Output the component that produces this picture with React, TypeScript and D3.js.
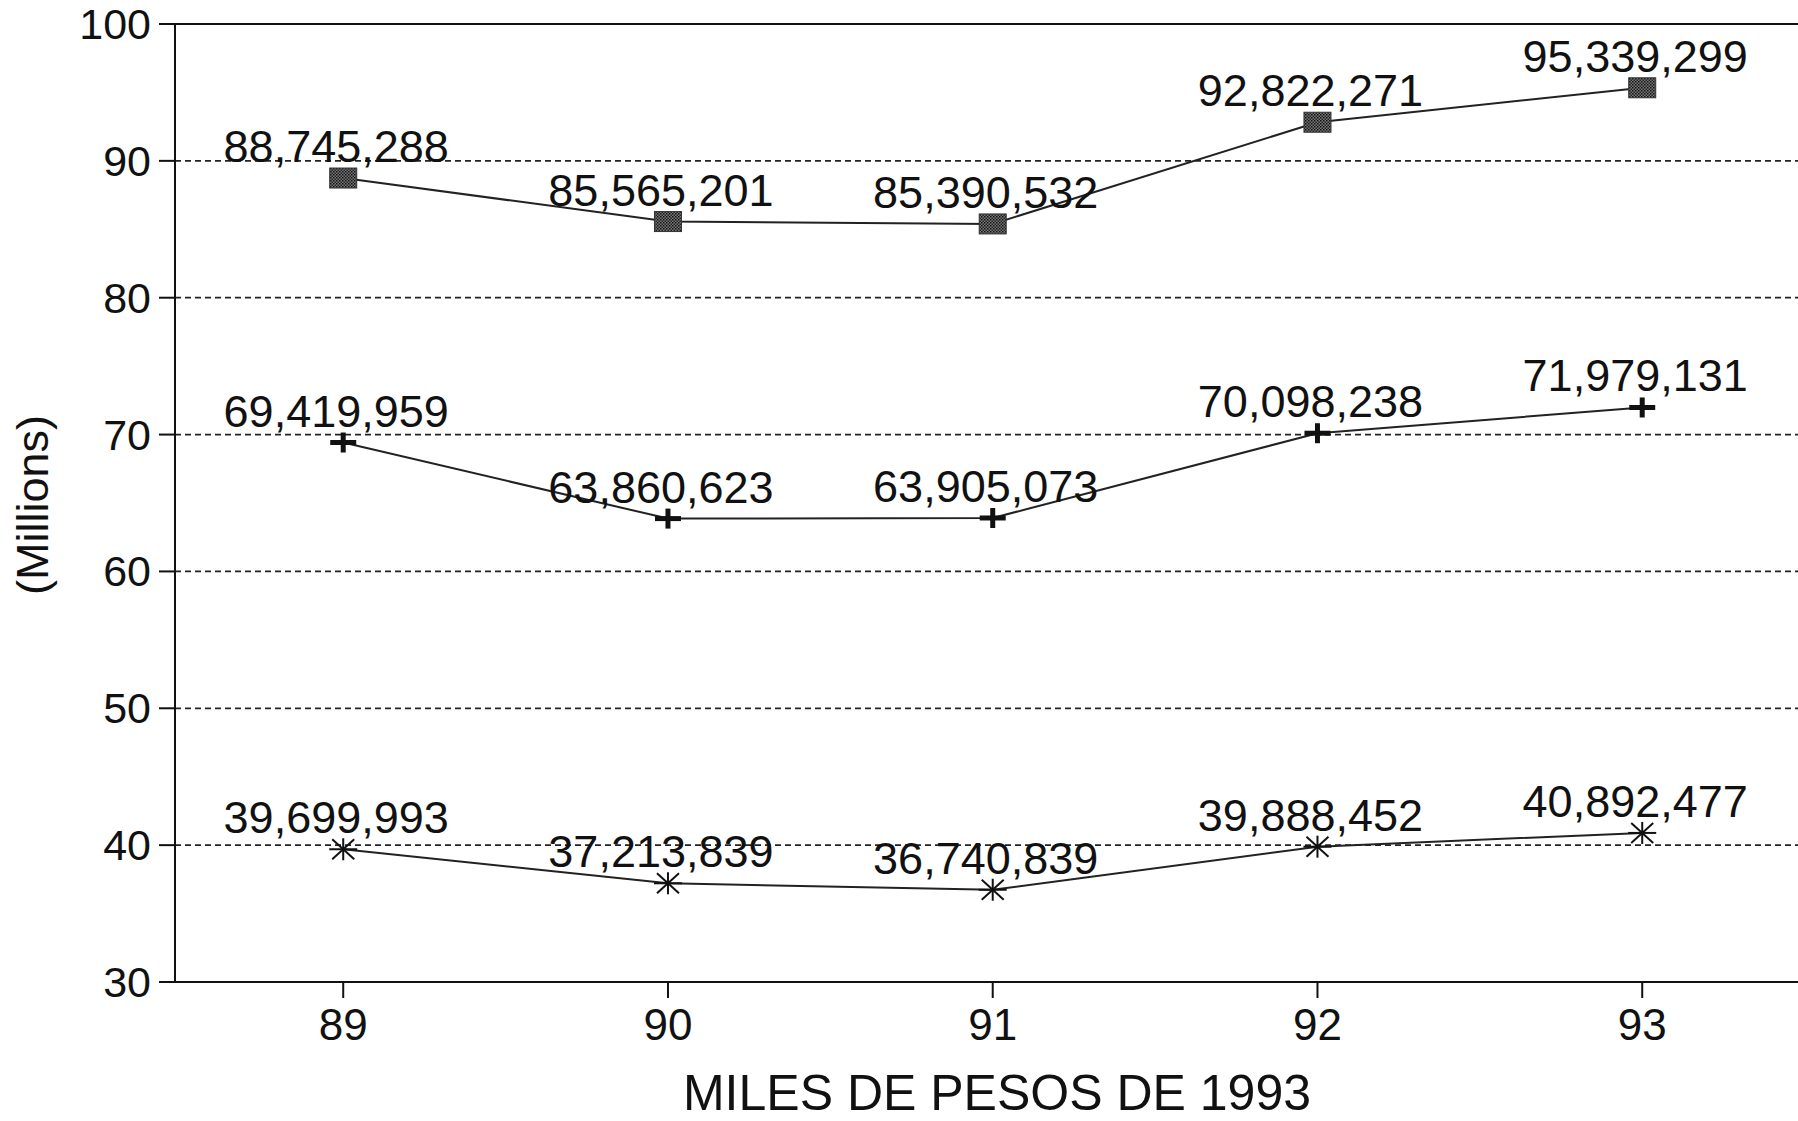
import React from "react";
import * as d3 from "d3";

const years = [89, 90, 91, 92, 93];
const seriesTop = [88.745288, 85.565201, 85.390532, 92.822271, 95.339299];
const seriesMid = [69.419959, 63.860623, 63.905073, 70.098238, 71.979131];
const seriesLow = [39.699993, 37.213839, 36.740839, 39.888452, 40.892477];
const labelsTop = ["88,745,288", "85,565,201", "85,390,532", "92,822,271", "95,339,299"];
const labelsMid = ["69,419,959", "63,860,623", "63,905,073", "70,098,238", "71,979,131"];
const labelsLow = ["39,699,993", "37,213,839", "36,740,839", "39,888,452", "40,892,477"];
const yTicks = [30, 40, 50, 60, 70, 80, 90, 100];
const gridValues = [40, 50, 60, 70, 80, 90];
const xTitle = "MILES DE PESOS DE 1993";
const yTitle = "(Millions)";

const W = 1798;
const H = 1121;
const FONT = "'Liberation Sans', Arial, Helvetica, sans-serif";

export default function App() {
  const left = 175;
  const top = 24;
  const bottom = 982;
  const x = d3.scaleLinear().domain([88.482, 93.5]).range([left, left + (93.5 - 88.482) * 324.75]);
  const y = d3.scaleLinear().domain([30, 100]).range([bottom, top]);
  const line = d3.line<number>().x((_, i) => x(years[i])).y((d) => y(d));

  const series = [
    { vals: seriesTop, labels: labelsTop, kind: "square" },
    { vals: seriesMid, labels: labelsMid, kind: "plus" },
    { vals: seriesLow, labels: labelsLow, kind: "star" },
  ];

  const marker = (kind: string, cx: number, cy: number, key: string) => {
    if (kind === "square") {
      return <rect key={key} x={cx - 13.5} y={cy - 10} width={27} height={20} fill="url(#dotpat)" stroke="#333" strokeWidth={1} />;
    }
    if (kind === "plus") {
      return (
        <g key={key} stroke="#111" strokeWidth={5}>
          <line x1={cx - 13} x2={cx + 13} y1={cy} y2={cy} />
          <line x1={cx} x2={cx} y1={cy - 10} y2={cy + 10} />
        </g>
      );
    }
    return (
      <g key={key} stroke="#111" strokeWidth={2}>
        <line x1={cx - 14} x2={cx + 14} y1={cy} y2={cy} />
        <line x1={cx} x2={cx} y1={cy - 11} y2={cy + 11} />
        <line x1={cx - 11} x2={cx + 11} y1={cy - 10} y2={cy + 10} />
        <line x1={cx - 11} x2={cx + 11} y1={cy + 10} y2={cy - 10} />
      </g>
    );
  };

  return (
    <svg width={W} height={H} style={{ position: "absolute", left: 0, top: 0, background: "#fff" }} fontFamily={FONT}>
      <defs>
        <pattern id="dotpat" width={3} height={3} patternUnits="userSpaceOnUse">
          <rect width={3} height={3} fill="#777" />
          <rect width={1.5} height={1.5} fill="#111" />
          <rect x={1.5} y={1.5} width={1.5} height={1.5} fill="#222" />
        </pattern>
      </defs>
      <rect width={W} height={H} fill="#fff" />
      {gridValues.map((v) => (
        <line key={"g" + v} x1={left} x2={W} y1={y(v)} y2={y(v)} stroke="#222" strokeWidth={1.8} strokeDasharray="6,4" />
      ))}
      <line x1={left} x2={left} y1={top} y2={bottom} stroke="#111" strokeWidth={2} />
      <line x1={left - 16} x2={W} y1={bottom} y2={bottom} stroke="#111" strokeWidth={2} />
      <line x1={left - 16} x2={W} y1={y(100)} y2={y(100)} stroke="#111" strokeWidth={2} />
      {yTicks.map((t) => (
        <g key={"yt" + t}>
          <line x1={left - 16} x2={left} y1={y(t)} y2={y(t)} stroke="#111" strokeWidth={2} />
          <text x={left - 24} y={y(t) + 15} textAnchor="end" fontSize={43} fill="#111">
            {t}
          </text>
        </g>
      ))}
      {years.map((yr) => (
        <g key={"xt" + yr}>
          <line x1={x(yr)} x2={x(yr)} y1={bottom} y2={bottom + 16} stroke="#111" strokeWidth={2} />
          <text x={x(yr)} y={bottom + 58} textAnchor="middle" fontSize={44} fill="#111">
            {yr}
          </text>
        </g>
      ))}
      <text x={997} y={1110} textAnchor="middle" fontSize={50} fill="#111">
        {xTitle}
      </text>
      <text transform={`translate(48,505) rotate(-90)`} textAnchor="middle" fontSize={45} fill="#111">
        {yTitle}
      </text>
      {series.map((s, si) => (
        <g key={"s" + si}>
          <path d={line(s.vals) || ""} fill="none" stroke="#222" strokeWidth={2} />
          {s.vals.map((v, i) => marker(s.kind, x(years[i]), y(v), `m${si}-${i}`))}
          {s.vals.map((v, i) => (
            <text key={`l${si}-${i}`} x={x(years[i]) - 7} y={y(v) - 16} textAnchor="middle" fontSize={45} fill="#111">
              {s.labels[i]}
            </text>
          ))}
        </g>
      ))}
    </svg>
  );
}
